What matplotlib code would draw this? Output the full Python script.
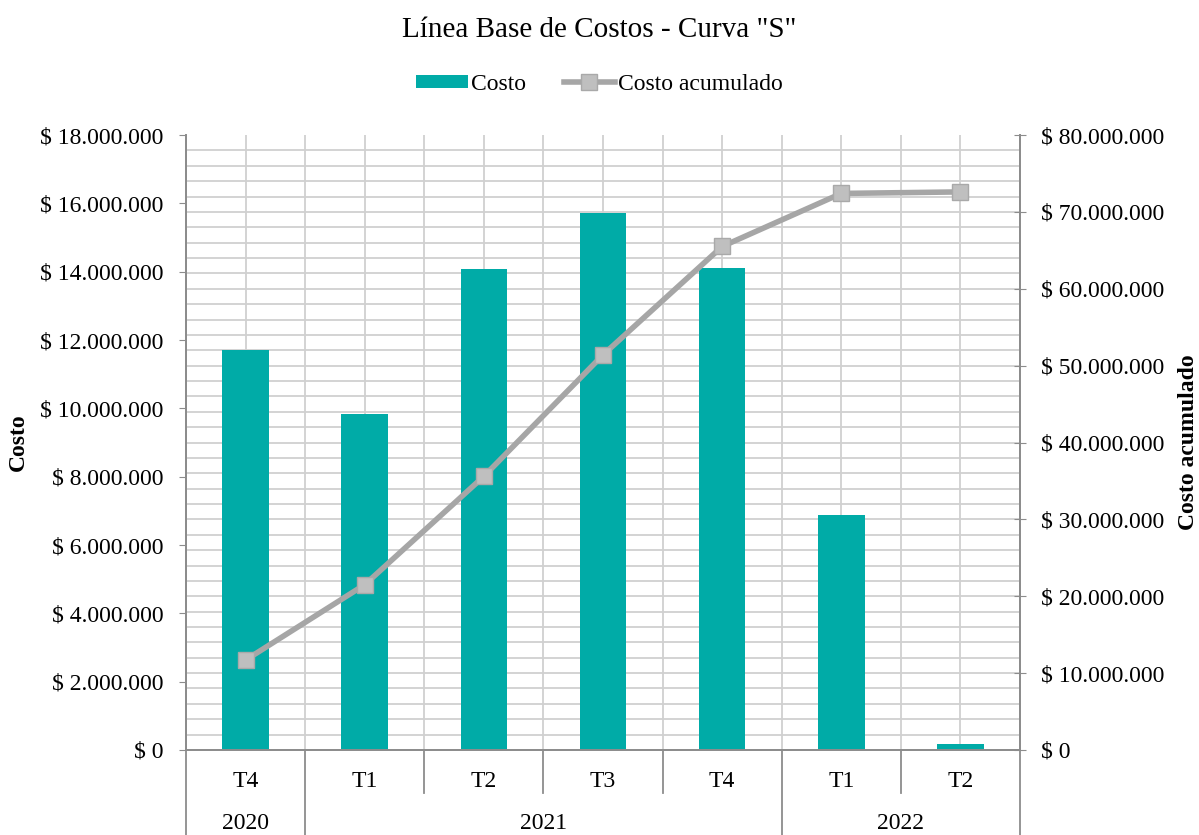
import matplotlib
matplotlib.use('Agg')
import matplotlib.pyplot as plt
import matplotlib.transforms as mtransforms
from matplotlib.lines import Line2D
from matplotlib.patches import Patch
import numpy as np

plt.rcParams['font.family'] = ['Liberation Serif', 'DejaVu Serif']

# data
quarters = ['T4', 'T1', 'T2', 'T3', 'T4', 'T1', 'T2']
years = ['2020', '2021', '2022']
year_span = [(0, 0), (1, 4), (5, 6)]   # first and last quarter index per year
costo = [11.71e6, 9.83e6, 14.08e6, 15.72e6, 14.10e6, 6.88e6, 0.17e6]
acumulado = [11.7e6, 21.5e6, 35.6e6, 51.4e6, 65.5e6, 72.4e6, 72.6e6]

teal = '#00ABA7'
line_gray = '#A6A6A6'
grid_gray = '#D0D0D0'
spine_gray = '#8C8C8C'
fs = 17


def pesos(v, pos=None):
    return '$ ' + f'{int(round(v)):,}'.replace(',', '.')


fig = plt.figure(figsize=(11.99, 8.35), dpi=100)
ax = fig.add_axes([0.1551, 0.1018, 0.6956, 0.7365])
ax2 = ax.twinx()

x = np.arange(len(quarters))
ax.bar(x, costo, width=0.39, color=teal, zorder=2)
ax.set_xlim(-0.5, len(quarters) - 0.5)
ax.set_ylim(0, 18e6)
ax.set_yticks(np.arange(0, 18.01e6, 2e6))
ax.yaxis.set_major_formatter(plt.FuncFormatter(pesos))
# horizontal grid follows the right axis minor steps (2M of 80M)
ax.set_yticks(np.arange(0, 18.01e6, 18e6 / 40), minor=True)
ax.set_xticks(np.arange(-0.5, len(quarters), 0.5), minor=True)
ax.set_xticks([])
ax.grid(which='minor', color=grid_gray, linewidth=1.3, zorder=0)
ax.set_axisbelow(True)
ax.tick_params(axis='y', which='major', direction='out', length=5,
               color=spine_gray, labelsize=fs, pad=11)
ax.tick_params(which='minor', length=0)
ax.set_ylabel('Costo', fontsize=fs, fontweight='bold', labelpad=8)

ax2.plot(x, acumulado, color=line_gray, linewidth=4, marker='s',
         markersize=11, markerfacecolor='#BFBFBF', markeredgecolor='#A9A9A9',
         markeredgewidth=1, zorder=3)
ax2.set_ylim(0, 80e6)
ax2.set_yticks(np.arange(0, 80.01e6, 10e6))
ax2.yaxis.set_major_formatter(plt.FuncFormatter(pesos))
ax2.tick_params(axis='y', direction='inout', length=8, color=spine_gray,
                labelsize=fs, pad=11)
ax2.set_ylabel('Costo acumulado', fontsize=fs, fontweight='bold', labelpad=10)

for a in (ax, ax2):
    a.spines['top'].set_visible(False)
    for s in ('left', 'right', 'bottom'):
        a.spines[s].set_color(spine_gray)
        a.spines[s].set_linewidth(1.3)

# two-level category axis
trans = mtransforms.blended_transform_factory(ax.transData, ax.transAxes)
for i, q in enumerate(quarters):
    ax.text(i, -0.052, q, transform=trans, ha='center', va='center', fontsize=fs)
for name, (a0, a1) in zip(years, year_span):
    ax.text((a0 + a1) / 2, -0.12, name, transform=trans, ha='center',
            va='center', fontsize=fs)
year_edges = [-0.5] + [s[1] + 0.5 for s in year_span]
for b in np.arange(-0.5, len(quarters), 1.0):
    low = -0.14 if b in year_edges else -0.07
    ax.plot([b, b], [0, low], transform=trans, color=spine_gray,
            linewidth=1.3, clip_on=False)

fig.text(0.5, 0.964, 'Línea Base de Costos - Curva "S"', fontsize=21,
         ha='center', va='center')

handles = [Patch(facecolor=teal, edgecolor='none'),
           Line2D([], [], color=line_gray, linewidth=4, marker='s', markersize=11,
                  markerfacecolor='#BFBFBF', markeredgecolor='#A9A9A9')]
fig.legend(handles, ['Costo', 'Costo acumulado'], loc='center',
           bbox_to_anchor=(0.5, 0.899), ncol=2, frameon=False, fontsize=fs,
           handlelength=2.2, handleheight=0.5, handletextpad=0.1,
           columnspacing=1.6)

fig.savefig('out.png', dpi=100)
